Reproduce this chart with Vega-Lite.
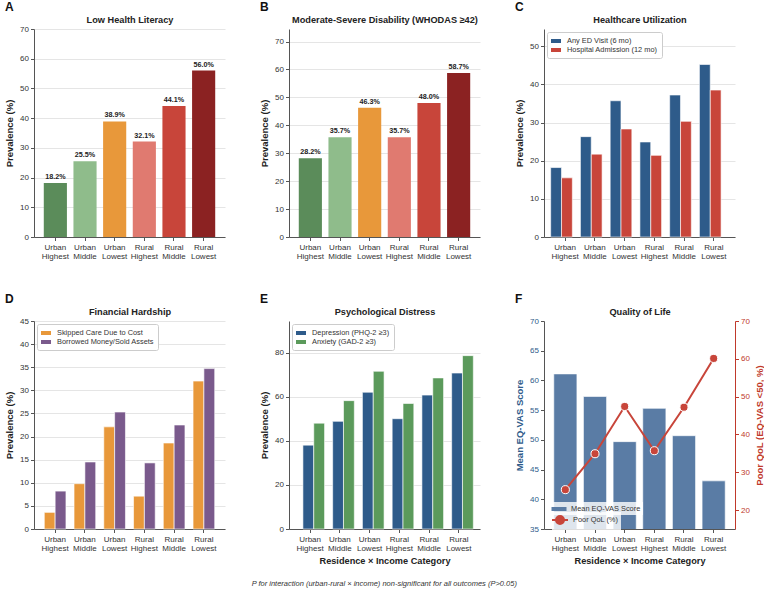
{
  "$schema": "https://vega.github.io/schema/vega-lite/v6.json",
  "padding": {"left": 4, "top": 0, "right": 0, "bottom": 0},
  "background": "white",
  "config": {
    "font": "Liberation Sans",
    "view": {"stroke": null},
    "axis": {
      "labelFont": "Liberation Sans", "titleFont": "Liberation Sans",
      "labelFontSize": 8, "titleFontSize": 9.5, "titleFontWeight": "bold",
      "labelColor": "#333333", "titleColor": "#222222",
      "domainColor": "#555555", "tickColor": "#555555", "tickSize": 3.5,
      "gridColor": "#e5e5e5", "labelPadding": 2
    },
    "axisX": {"grid": false, "labelAngle": 0, "labelPadding": 3},
    "axisY": {"grid": true, "titlePadding": 5},
    "legend": {"labelFont": "Liberation Sans", "labelFontSize": 7.4, "labelColor": "#333333"},
    "title": {"font": "Liberation Sans"}
  },
  "title": {"text": "P for interaction (urban-rural × income) non-significant for all outcomes (P>0.05)", "orient": "bottom", "anchor": "middle", "fontSize": 7.5, "fontStyle": "italic", "fontWeight": "normal", "color": "#333333", "offset": 15},
  "datasets": {
    "A": [
      {"cat": "Urban Highest", "v": 18.2, "lab": "18.2%"},
      {"cat": "Urban Middle", "v": 25.5, "lab": "25.5%"},
      {"cat": "Urban Lowest", "v": 38.9, "lab": "38.9%"},
      {"cat": "Rural Highest", "v": 32.1, "lab": "32.1%"},
      {"cat": "Rural Middle", "v": 44.1, "lab": "44.1%"},
      {"cat": "Rural Lowest", "v": 56.0, "lab": "56.0%"}
    ],
    "B": [
      {"cat": "Urban Highest", "v": 28.2, "lab": "28.2%"},
      {"cat": "Urban Middle", "v": 35.7, "lab": "35.7%"},
      {"cat": "Urban Lowest", "v": 46.3, "lab": "46.3%"},
      {"cat": "Rural Highest", "v": 35.7, "lab": "35.7%"},
      {"cat": "Rural Middle", "v": 48.0, "lab": "48.0%"},
      {"cat": "Rural Lowest", "v": 58.7, "lab": "58.7%"}
    ],
    "C": [
      {"cat": "Urban Highest", "s": "Any ED Visit (6 mo)", "v": 18.2},
      {"cat": "Urban Middle", "s": "Any ED Visit (6 mo)", "v": 26.3},
      {"cat": "Urban Lowest", "s": "Any ED Visit (6 mo)", "v": 35.7},
      {"cat": "Rural Highest", "s": "Any ED Visit (6 mo)", "v": 24.9},
      {"cat": "Rural Middle", "s": "Any ED Visit (6 mo)", "v": 37.2},
      {"cat": "Rural Lowest", "s": "Any ED Visit (6 mo)", "v": 45.2},
      {"cat": "Urban Highest", "s": "Hospital Admission (12 mo)", "v": 15.5},
      {"cat": "Urban Middle", "s": "Hospital Admission (12 mo)", "v": 21.7},
      {"cat": "Urban Lowest", "s": "Hospital Admission (12 mo)", "v": 28.3},
      {"cat": "Rural Highest", "s": "Hospital Admission (12 mo)", "v": 21.4},
      {"cat": "Rural Middle", "s": "Hospital Admission (12 mo)", "v": 30.3},
      {"cat": "Rural Lowest", "s": "Hospital Admission (12 mo)", "v": 38.5}
    ],
    "D": [
      {"cat": "Urban Highest", "s": "Skipped Care Due to Cost", "v": 3.6},
      {"cat": "Urban Middle", "s": "Skipped Care Due to Cost", "v": 9.8},
      {"cat": "Urban Lowest", "s": "Skipped Care Due to Cost", "v": 22.1},
      {"cat": "Rural Highest", "s": "Skipped Care Due to Cost", "v": 7.1},
      {"cat": "Rural Middle", "s": "Skipped Care Due to Cost", "v": 18.6},
      {"cat": "Rural Lowest", "s": "Skipped Care Due to Cost", "v": 32.0},
      {"cat": "Urban Highest", "s": "Borrowed Money/Sold Assets", "v": 8.2},
      {"cat": "Urban Middle", "s": "Borrowed Money/Sold Assets", "v": 14.5},
      {"cat": "Urban Lowest", "s": "Borrowed Money/Sold Assets", "v": 25.3},
      {"cat": "Rural Highest", "s": "Borrowed Money/Sold Assets", "v": 14.3},
      {"cat": "Rural Middle", "s": "Borrowed Money/Sold Assets", "v": 22.5},
      {"cat": "Rural Lowest", "s": "Borrowed Money/Sold Assets", "v": 34.7}
    ],
    "E": [
      {"cat": "Urban Highest", "s": "Depression (PHQ-2 ≥3)", "v": 38.0},
      {"cat": "Urban Middle", "s": "Depression (PHQ-2 ≥3)", "v": 48.8},
      {"cat": "Urban Lowest", "s": "Depression (PHQ-2 ≥3)", "v": 62.0},
      {"cat": "Rural Highest", "s": "Depression (PHQ-2 ≥3)", "v": 50.0},
      {"cat": "Rural Middle", "s": "Depression (PHQ-2 ≥3)", "v": 60.7},
      {"cat": "Rural Lowest", "s": "Depression (PHQ-2 ≥3)", "v": 70.7},
      {"cat": "Urban Highest", "s": "Anxiety (GAD-2 ≥3)", "v": 48.0},
      {"cat": "Urban Middle", "s": "Anxiety (GAD-2 ≥3)", "v": 58.2},
      {"cat": "Urban Lowest", "s": "Anxiety (GAD-2 ≥3)", "v": 71.5},
      {"cat": "Rural Highest", "s": "Anxiety (GAD-2 ≥3)", "v": 56.9},
      {"cat": "Rural Middle", "s": "Anxiety (GAD-2 ≥3)", "v": 68.5},
      {"cat": "Rural Lowest", "s": "Anxiety (GAD-2 ≥3)", "v": 78.6}
    ],
    "F": [
      {"cat": "Urban Highest", "eq": 61.1, "qol": 25.4},
      {"cat": "Urban Middle", "eq": 57.3, "qol": 34.9},
      {"cat": "Urban Lowest", "eq": 49.7, "qol": 47.4},
      {"cat": "Rural Highest", "eq": 55.3, "qol": 35.7},
      {"cat": "Rural Middle", "eq": 50.7, "qol": 47.2},
      {"cat": "Rural Lowest", "eq": 43.1, "qol": 60.1}
    ]
  },
  "columns": 3,
  "bounds": "flush",
  "spacing": {"row": 84, "column": 64},
  "resolve": {
    "scale": {"color": "independent", "fill": "independent", "stroke": "independent"},
    "legend": {"color": "independent", "fill": "independent", "stroke": "independent"}
  },
  "concat": [
    {
      "width": 191, "height": 208,
      "title": {"text": "A", "anchor": "start", "frame": "group", "dx": -29, "fontSize": 12, "fontWeight": "bold", "color": "#111111", "offset": 1.5},
      "data": {"name": "A"},
      "encoding": {
        "y": {"field": "v", "type": "quantitative", "scale": {"domain": [0, 70]}, "axis": {"title": "Prevalence (%)", "values": [0, 10, 20, 30, 40, 50, 60, 70]}}
      },
      "layer": [
        {
          "mark": {"type": "bar"},
          "encoding": {
            "x": {"field": "cat", "type": "nominal", "sort": ["Urban Highest", "Urban Middle", "Urban Lowest", "Rural Highest", "Rural Middle", "Rural Lowest"], "scale": {"paddingInner": 0.22, "paddingOuter": 0.33}, "axis": {"title": null, "labelExpr": "split(datum.label, ' ')", "labelLineHeight": 8.5}},
            "color": {"field": "cat", "type": "nominal", "scale": {"domain": ["Urban Highest", "Urban Middle", "Urban Lowest", "Rural Highest", "Rural Middle", "Rural Lowest"], "range": ["#5b8c5a", "#8fbc8b", "#e8983a", "#e07a70", "#c8453a", "#8b2222"]}, "legend": null}
          }
        },
        {
          "mark": {"type": "text", "baseline": "alphabetic", "dy": -4, "fontSize": 7.2, "fontWeight": "bold", "color": "#222222"},
          "encoding": {
            "x": {"field": "cat", "type": "nominal", "sort": ["Urban Highest", "Urban Middle", "Urban Lowest", "Rural Highest", "Rural Middle", "Rural Lowest"], "axis": {"orient": "top", "labels": false, "ticks": false, "domain": false, "grid": false, "title": "Low Health Literacy", "titleFontSize": 9.2, "titlePadding": 5}},
            "text": {"field": "lab"}
          }
        }
      ],
      "resolve": {"axis": {"x": "independent"}}
    },
    {
      "width": 191, "height": 208,
      "title": {"text": "B", "anchor": "start", "frame": "group", "dx": -29, "fontSize": 12, "fontWeight": "bold", "color": "#111111", "offset": 1.5},
      "data": {"name": "B"},
      "encoding": {
        "y": {"field": "v", "type": "quantitative", "scale": {"domain": [0, 74.5]}, "axis": {"title": "Prevalence (%)", "values": [0, 10, 20, 30, 40, 50, 60, 70]}}
      },
      "layer": [
        {
          "mark": {"type": "bar"},
          "encoding": {
            "x": {"field": "cat", "type": "nominal", "sort": ["Urban Highest", "Urban Middle", "Urban Lowest", "Rural Highest", "Rural Middle", "Rural Lowest"], "scale": {"paddingInner": 0.22, "paddingOuter": 0.33}, "axis": {"title": null, "labelExpr": "split(datum.label, ' ')", "labelLineHeight": 8.5}},
            "color": {"field": "cat", "type": "nominal", "scale": {"domain": ["Urban Highest", "Urban Middle", "Urban Lowest", "Rural Highest", "Rural Middle", "Rural Lowest"], "range": ["#5b8c5a", "#8fbc8b", "#e8983a", "#e07a70", "#c8453a", "#8b2222"]}, "legend": null}
          }
        },
        {
          "mark": {"type": "text", "baseline": "alphabetic", "dy": -4, "fontSize": 7.2, "fontWeight": "bold", "color": "#222222"},
          "encoding": {
            "x": {"field": "cat", "type": "nominal", "sort": ["Urban Highest", "Urban Middle", "Urban Lowest", "Rural Highest", "Rural Middle", "Rural Lowest"], "axis": {"orient": "top", "labels": false, "ticks": false, "domain": false, "grid": false, "title": "Moderate-Severe Disability (WHODAS ≥42)", "titleFontSize": 9.2, "titlePadding": 5}},
            "text": {"field": "lab"}
          }
        }
      ],
      "resolve": {"axis": {"x": "independent"}}
    },
    {
      "width": 191, "height": 208,
      "title": {"text": "C", "anchor": "start", "frame": "group", "dx": -29, "fontSize": 12, "fontWeight": "bold", "color": "#111111", "offset": 1.5},
      "data": {"name": "C"},
      "encoding": {
        "y": {"field": "v", "type": "quantitative", "scale": {"domain": [0, 54.5]}, "axis": {"title": "Prevalence (%)", "values": [0, 10, 20, 30, 40, 50]}}
      },
      "layer": [
        {
          "mark": {"type": "bar", "stroke": "white", "strokeWidth": 0.6, "width": 10.8},
          "encoding": {
            "x": {"field": "cat", "type": "nominal", "sort": ["Urban Highest", "Urban Middle", "Urban Lowest", "Rural Highest", "Rural Middle", "Rural Lowest"], "scale": {"paddingInner": 0.27, "paddingOuter": 0.345}, "axis": {"title": null, "labelExpr": "split(datum.label, ' ')", "labelLineHeight": 8.5}},
            "xOffset": {"field": "s", "type": "nominal", "sort": ["Any ED Visit (6 mo)", "Hospital Admission (12 mo)"]},
            "color": {"field": "s", "type": "nominal", "scale": {"domain": ["Any ED Visit (6 mo)", "Hospital Admission (12 mo)"], "range": ["#2e5b8a", "#c8453a"]}, "legend": {"orient": "none", "legendX": 3, "legendY": 3, "direction": "vertical", "title": null, "padding": 4, "fillColor": "white", "strokeColor": "#cccccc", "cornerRadius": 2, "symbolType": "M-1,-0.4H1V0.4H-1Z", "symbolSize": 100, "symbolStrokeWidth": 0, "rowPadding": 0, "labelOffset": 6}}
          }
        },
        {
          "mark": {"type": "point", "opacity": 0},
          "encoding": {
            "x": {"field": "cat", "type": "nominal", "sort": ["Urban Highest", "Urban Middle", "Urban Lowest", "Rural Highest", "Rural Middle", "Rural Lowest"], "axis": {"orient": "top", "labels": false, "ticks": false, "domain": false, "grid": false, "title": "Healthcare Utilization", "titleFontSize": 9.2, "titlePadding": 5}}
          }
        }
      ],
      "resolve": {"axis": {"x": "independent"}}
    },
    {
      "width": 191, "height": 208,
      "title": {"text": "D", "anchor": "start", "frame": "group", "dx": -29, "fontSize": 12, "fontWeight": "bold", "color": "#111111", "offset": 1.5},
      "data": {"name": "D"},
      "encoding": {
        "y": {"field": "v", "type": "quantitative", "scale": {"domain": [0, 45]}, "axis": {"title": "Prevalence (%)", "values": [0, 5, 10, 15, 20, 25, 30, 35, 40, 45]}}
      },
      "layer": [
        {
          "mark": {"type": "bar", "stroke": "white", "strokeWidth": 0.6, "width": 10.8},
          "encoding": {
            "x": {"field": "cat", "type": "nominal", "sort": ["Urban Highest", "Urban Middle", "Urban Lowest", "Rural Highest", "Rural Middle", "Rural Lowest"], "scale": {"paddingInner": 0.27, "paddingOuter": 0.345}, "axis": {"title": null, "labelExpr": "split(datum.label, ' ')", "labelLineHeight": 8.5}},
            "xOffset": {"field": "s", "type": "nominal", "sort": ["Skipped Care Due to Cost", "Borrowed Money/Sold Assets"]},
            "color": {"field": "s", "type": "nominal", "scale": {"domain": ["Skipped Care Due to Cost", "Borrowed Money/Sold Assets"], "range": ["#e8983a", "#7a5a8c"]}, "legend": {"orient": "none", "legendX": 3, "legendY": 3, "direction": "vertical", "title": null, "padding": 4, "fillColor": "white", "strokeColor": "#cccccc", "cornerRadius": 2, "symbolType": "M-1,-0.4H1V0.4H-1Z", "symbolSize": 100, "symbolStrokeWidth": 0, "rowPadding": 0, "labelOffset": 6}}
          }
        },
        {
          "mark": {"type": "point", "opacity": 0},
          "encoding": {
            "x": {"field": "cat", "type": "nominal", "sort": ["Urban Highest", "Urban Middle", "Urban Lowest", "Rural Highest", "Rural Middle", "Rural Lowest"], "axis": {"orient": "top", "labels": false, "ticks": false, "domain": false, "grid": false, "title": "Financial Hardship", "titleFontSize": 9.2, "titlePadding": 5}}
          }
        }
      ],
      "resolve": {"axis": {"x": "independent"}}
    },
    {
      "width": 191, "height": 208,
      "title": {"text": "E", "anchor": "start", "frame": "group", "dx": -29, "fontSize": 12, "fontWeight": "bold", "color": "#111111", "offset": 1.5},
      "data": {"name": "E"},
      "encoding": {
        "y": {"field": "v", "type": "quantitative", "scale": {"domain": [0, 94.3]}, "axis": {"title": "Prevalence (%)", "values": [0, 20, 40, 60, 80]}}
      },
      "layer": [
        {
          "mark": {"type": "bar", "stroke": "white", "strokeWidth": 0.6, "width": 10.8},
          "encoding": {
            "x": {"field": "cat", "type": "nominal", "sort": ["Urban Highest", "Urban Middle", "Urban Lowest", "Rural Highest", "Rural Middle", "Rural Lowest"], "scale": {"paddingInner": 0.27, "paddingOuter": 0.345}, "axis": {"title": "Residence × Income Category", "titleFontSize": 9.2, "titlePadding": 4, "labelExpr": "split(datum.label, ' ')", "labelLineHeight": 8.5}},
            "xOffset": {"field": "s", "type": "nominal", "sort": ["Depression (PHQ-2 ≥3)", "Anxiety (GAD-2 ≥3)"]},
            "color": {"field": "s", "type": "nominal", "scale": {"domain": ["Depression (PHQ-2 ≥3)", "Anxiety (GAD-2 ≥3)"], "range": ["#2e5b8a", "#5b9a5b"]}, "legend": {"orient": "none", "legendX": 3, "legendY": 3, "direction": "vertical", "title": null, "padding": 4, "fillColor": "white", "strokeColor": "#cccccc", "cornerRadius": 2, "symbolType": "M-1,-0.4H1V0.4H-1Z", "symbolSize": 100, "symbolStrokeWidth": 0, "rowPadding": 0, "labelOffset": 6}}
          }
        },
        {
          "mark": {"type": "point", "opacity": 0},
          "encoding": {
            "x": {"field": "cat", "type": "nominal", "sort": ["Urban Highest", "Urban Middle", "Urban Lowest", "Rural Highest", "Rural Middle", "Rural Lowest"], "axis": {"orient": "top", "labels": false, "ticks": false, "domain": false, "grid": false, "title": "Psychological Distress", "titleFontSize": 9.2, "titlePadding": 5}}
          }
        }
      ],
      "resolve": {"axis": {"x": "independent"}}
    },
    {
      "width": 191, "height": 208,
      "title": {"text": "F", "anchor": "start", "frame": "group", "dx": -29, "fontSize": 12, "fontWeight": "bold", "color": "#111111", "offset": 1.5},
      "data": {"name": "F"},
      "layer": [
        {
          "mark": {"type": "bar", "stroke": "white", "strokeWidth": 0.6, "clip": true},
          "encoding": {
            "x": {"field": "cat", "type": "nominal", "sort": ["Urban Highest", "Urban Middle", "Urban Lowest", "Rural Highest", "Rural Middle", "Rural Lowest"], "scale": {"paddingInner": 0.22, "paddingOuter": 0.33}, "axis": {"title": "Residence × Income Category", "titleFontSize": 9.2, "titlePadding": 4, "labelExpr": "split(datum.label, ' ')", "labelLineHeight": 8.5}},
            "y": {"field": "eq", "type": "quantitative", "scale": {"domain": [35, 70], "zero": false}, "axis": {"title": "Mean EQ-VAS Score", "values": [35, 40, 45, 50, 55, 60, 65, 70], "grid": false, "labelColor": "#2e5b8a", "titleColor": "#2e5b8a"}},
            "fill": {"datum": "Mean EQ-VAS Score", "scale": {"range": ["#5a7ca5"]}, "legend": {"orient": "none", "legendX": 8, "legendY": 181, "title": null, "padding": 2, "fillColor": "rgba(255,255,255,0.8)", "symbolType": "M-1.5,-0.4H1.5V0.4H-1.5Z", "symbolSize": 100, "symbolStrokeWidth": 0, "labelOffset": 7}}
          }
        },
        {
          "layer": [
            {
              "mark": {"type": "line", "strokeWidth": 2},
              "encoding": {
                "x": {"field": "cat", "type": "nominal", "sort": ["Urban Highest", "Urban Middle", "Urban Lowest", "Rural Highest", "Rural Middle", "Rural Lowest"], "axis": {"orient": "top", "labels": false, "ticks": false, "domain": false, "grid": false, "title": "Quality of Life", "titleFontSize": 9.2, "titlePadding": 5}},
                "y": {"field": "qol", "type": "quantitative", "scale": {"domain": [15, 70], "zero": false}, "axis": {"orient": "right", "title": "Poor QoL (EQ-VAS <50, %)", "titleAngle": -90, "titleBaseline": "top", "values": [20, 30, 40, 50, 60, 70], "grid": false, "labelColor": "#c0392b", "titleColor": "#c0392b", "domainColor": "#c0392b", "tickColor": "#c0392b", "titlePadding": 5}},
                "stroke": {"datum": "Poor QoL (%)", "scale": {"range": ["#c8453a"]}, "legend": {"orient": "none", "legendX": 8, "legendY": 191, "title": null, "padding": 2, "fillColor": "rgba(255,255,255,0.8)", "symbolType": "M-1.6,0H1.6M0.8,0A0.8,0.8 0 1 1 -0.8,0A0.8,0.8 0 1 1 0.8,0", "symbolSize": 100, "symbolStrokeWidth": 2, "symbolFillColor": "#c8453a", "labelOffset": 7}}
              }
            },
            {
              "mark": {"type": "point", "filled": true, "size": 65, "fill": "#c8453a", "stroke": "white", "strokeWidth": 1, "opacity": 1},
              "encoding": {
                "x": {"field": "cat", "type": "nominal", "sort": ["Urban Highest", "Urban Middle", "Urban Lowest", "Rural Highest", "Rural Middle", "Rural Lowest"]},
                "y": {"field": "qol", "type": "quantitative"}
              }
            }
          ]
        }
      ],
      "resolve": {"scale": {"y": "independent"}, "axis": {"x": "independent", "y": "independent"}}
    }
  ]
}
